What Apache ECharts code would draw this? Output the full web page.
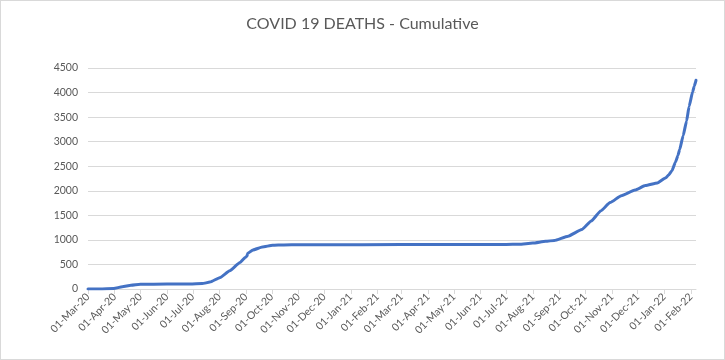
<!DOCTYPE html>
<html>
<head>
<meta charset="utf-8">
<script src="https://cdn.jsdelivr.net/npm/echarts@6/dist/echarts.min.js"></script>
<style>
html,body{margin:0;padding:0;background:#fff;}
#chart{width:725px;height:360px;box-sizing:border-box;border:1px solid #d9d9d9;}
</style>
</head>
<body>
<div id="chart"></div>
<script>
// Axis domain: first and last day shown on the date axis
const startDate = '2020-03-01';
const endDate = '2022-02-07';

const sampleDates = [
  '01-Mar-20','15-Mar-20','31-Mar-20','10-Apr-20','20-Apr-20','01-May-20','01-Jun-20','28-Jun-20',
  '12-Jul-20','21-Jul-20','02-Aug-20','13-Aug-20','25-Aug-20','31-Aug-20','02-Sep-20','03-Sep-20',
  '09-Sep-20','20-Sep-20','02-Oct-20','15-Oct-20','02-Nov-20','01-Dec-20','01-Mar-21','01-Jul-21',
  '16-Jul-21','01-Aug-21','16-Aug-21','26-Aug-21','11-Sep-21','27-Sep-21','08-Oct-21','19-Oct-21',
  '30-Oct-21','12-Nov-21','28-Nov-21','10-Dec-21','24-Dec-21','03-Jan-22','06-Jan-22','10-Jan-22',
  '14-Jan-22','17-Jan-22','19-Jan-22','23-Jan-22','27-Jan-22','30-Jan-22','03-Feb-22','05-Feb-22',
  '07-Feb-22'
];
const deaths = [
  0, 2, 10, 45, 75, 95, 100, 102,
  110, 140, 235, 370, 540, 640, 665, 727,
  795, 855, 890, 898, 900, 902, 905, 908,
  912, 935, 970, 990, 1075, 1210, 1385, 1590,
  1760, 1900, 2015, 2105, 2160, 2265, 2320, 2410,
  2580, 2720, 2840, 3120, 3420, 3720, 4010, 4130,
  4250
];

const yTicks = { min: 0, max: 4500, step: 500 };
const titleText = 'COVID 19 DEATHS - Cumulative';

const monthNames = ['Jan','Feb','Mar','Apr','May','Jun','Jul','Aug','Sep','Oct','Nov','Dec'];
function fmt(d) {
  const dd = String(d.getUTCDate()).padStart(2, '0');
  const yy = String(d.getUTCFullYear()).slice(2);
  return dd + '-' + monthNames[d.getUTCMonth()] + '-' + yy;
}
const categories = [];
for (let t = Date.parse(startDate + 'T00:00:00Z'); t <= Date.parse(endDate + 'T00:00:00Z'); t += 86400000) {
  categories.push(fmt(new Date(t)));
}
const seriesData = sampleDates.map((d, i) => [d, deaths[i]]);
const isMonthStart = (idx, val) => categories[idx].startsWith('01-');

const chart = echarts.init(document.getElementById('chart'), null, { renderer: 'canvas' });
chart.setOption({
  animation: false,
  title: {
    text: titleText,
    left: 'center',
    top: 10,
    textStyle: { fontFamily: 'Lato', fontSize: 16, fontWeight: 'normal', color: '#595959' }
  },
  grid: { left: 87, right: 28, top: 67, bottom: 70, containLabel: false },
  xAxis: {
    type: 'category',
    data: categories,
    boundaryGap: false,
    axisLine: { lineStyle: { color: '#d9d9d9', width: 1 } },
    axisTick: { show: true, interval: isMonthStart, length: 5, lineStyle: { color: '#d9d9d9' } },
    axisLabel: {
      interval: isMonthStart,
      rotate: 45,
      margin: 6,
      fontFamily: 'Lato',
      fontSize: 10.5,
      color: '#595959'
    },
    splitLine: { show: false }
  },
  yAxis: {
    type: 'value',
    min: yTicks.min,
    max: yTicks.max,
    interval: yTicks.step,
    axisLine: { show: false },
    axisTick: { show: false },
    axisLabel: { fontFamily: 'Lato', fontSize: 10.5, color: '#595959', margin: 10, formatter: (v) => String(v) },
    splitLine: { lineStyle: { color: '#d9d9d9', width: 1 } }
  },
  series: [{
    type: 'line',
    data: seriesData,
    showSymbol: false,
    smooth: 0.15,
    smoothMonotone: 'x',
    lineStyle: { color: '#4472C4', width: 3, cap: 'round', join: 'round' },
    itemStyle: { color: '#4472C4' }
  }]
});
</script>
</body>
</html>
